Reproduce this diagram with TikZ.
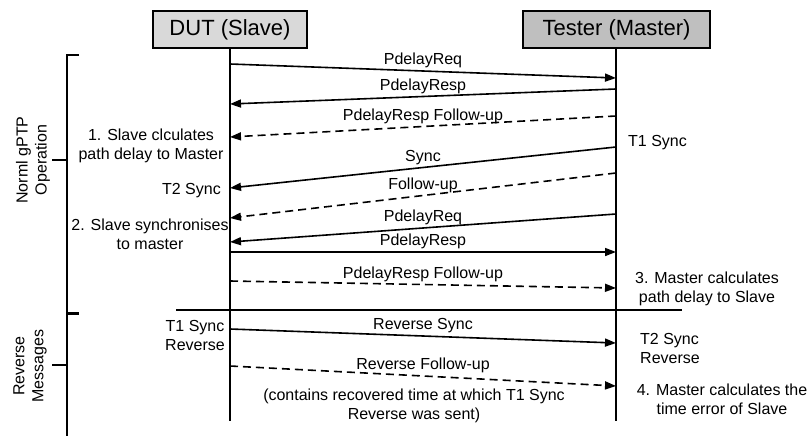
\documentclass[tikz,border=0pt]{standalone}
\usepackage{fontspec}
\setmainfont{Liberation Sans}
\usetikzlibrary{arrows.meta}
\definecolor{dutgray}{HTML}{D9D9D9}
\definecolor{testgray}{HTML}{BFBFBF}
\begin{document}
\begin{tikzpicture}[x=1pt,y=-1pt,
  txt/.style={font=\fontsize{16}{19}\selectfont, inner sep=0pt, align=center},
  head/.style={draw, line width=1.5pt, minimum height=37pt, inner sep=0pt,
               font=\fontsize{22}{26}\selectfont},
  life/.style={line width=1.8pt},
  msg/.style={line width=1.6pt, -{Triangle[length=11pt,width=8pt]}},
  fu/.style={msg, dash pattern=on 8pt off 5pt},
  lbl/.style={txt, midway, above=2pt},
  brk/.style={line width=2pt}
]
\useasboundingbox (0,0) rectangle (808,436);

% participants and lifelines
\node[head, fill=dutgray, minimum width=154pt] (dut) at (230,29.5) {DUT (Slave)};
\node[head, fill=testgray, minimum width=187pt] (tester) at (616.5,29.5) {Tester (Master)};
\coordinate (dutend) at (230,421);
\coordinate (tend) at (616,421);
\draw[life] (dut.south) -- (dutend);
\draw[life] (tester.south -| tend) -- (tend);

% message end points on the lifelines
\coordinate (d1) at (230,64);   \coordinate (t1) at (616,78);
\coordinate (d2) at (230,104);  \coordinate (t2) at (616,89);
\coordinate (d3) at (230,137);  \coordinate (t3) at (616,116);
\coordinate (d4) at (230,188);  \coordinate (t4) at (616,147);
\coordinate (d5) at (230,218);  \coordinate (t5) at (616,173);
\coordinate (d6) at (230,242);  \coordinate (t6) at (616,214);
\coordinate (d7) at (230,252);  \coordinate (t7) at (616,252);
\coordinate (d8) at (230,281);  \coordinate (t8) at (616,288);
\coordinate (d9) at (230,329);  \coordinate (t9) at (616,343);
\coordinate (d10) at (230,366); \coordinate (t10) at (616,386);

% normal gPTP operation
\draw[msg] (d1) -- node[lbl] {PdelayReq} (t1);
\draw[msg] (t2) -- node[lbl] {PdelayResp} (d2);
\draw[fu]  (t3) -- node[lbl] {PdelayResp Follow-up} (d3);
\draw[msg] (t4) -- node[lbl] {Sync} (d4);
\draw[fu]  (t5) -- node[lbl] {Follow-up} (d5);
\draw[msg] (t6) -- node[lbl] {PdelayReq} (d6);
\draw[msg] (d7) -- node[lbl] {PdelayResp} (t7);
\draw[fu]  (d8) -- node[lbl] {PdelayResp Follow-up} (t8);

% separator between the two phases
\coordinate (sepL) at (176,310);
\coordinate (sepR) at (682,310);
\draw[line width=1.5pt] (sepL) -- (sepR);

% reverse messages
\draw[msg] (d9) -- node[lbl] {Reverse Sync} (t9);
\draw[fu]  (d10) -- node[lbl] {Reverse Follow-up} (t10);
\node[txt] (note) at (414,406) {(contains recovered time at which T1 Sync\\Reverse was sent)};

% annotations at the slave
\node[txt] (s1) at (151,146) {1. Slave clculates\\path delay to Master};
\node[txt, anchor=east] (s2) at (221,191) {T2 Sync};
\node[txt] (s3) at (150,234) {2. Slave synchronises\\to master};
\node[txt] (s4) at (195,335) {T1 Sync\\Reverse};

% annotations at the master
\node[txt, anchor=west] (m1) at (628,143) {T1 Sync};
\node[txt] (m2) at (707,289) {3. Master calculates\\path delay to Slave};
\node[txt, align=left, anchor=west] (m3) at (640,348) {T2 Sync\\Reverse};
\node[txt] (m4) at (722,399) {4. Master calculates the\\time error of Slave};

% phase bracket
\draw[brk] (79,55) -- (67,55) -- (67,436);
\draw[brk] (52,160) -- (67,160);
\draw[line width=3pt] (67,313) -- (79,313);
\draw[brk] (52,365) -- (67,365);
\node[txt, rotate=90] (phase1) at (33,160) {Norml gPTP\\Operation};
\node[txt, rotate=90] (phase2) at (30,366) {Reverse\\Messages};
\end{tikzpicture}
\end{document}
